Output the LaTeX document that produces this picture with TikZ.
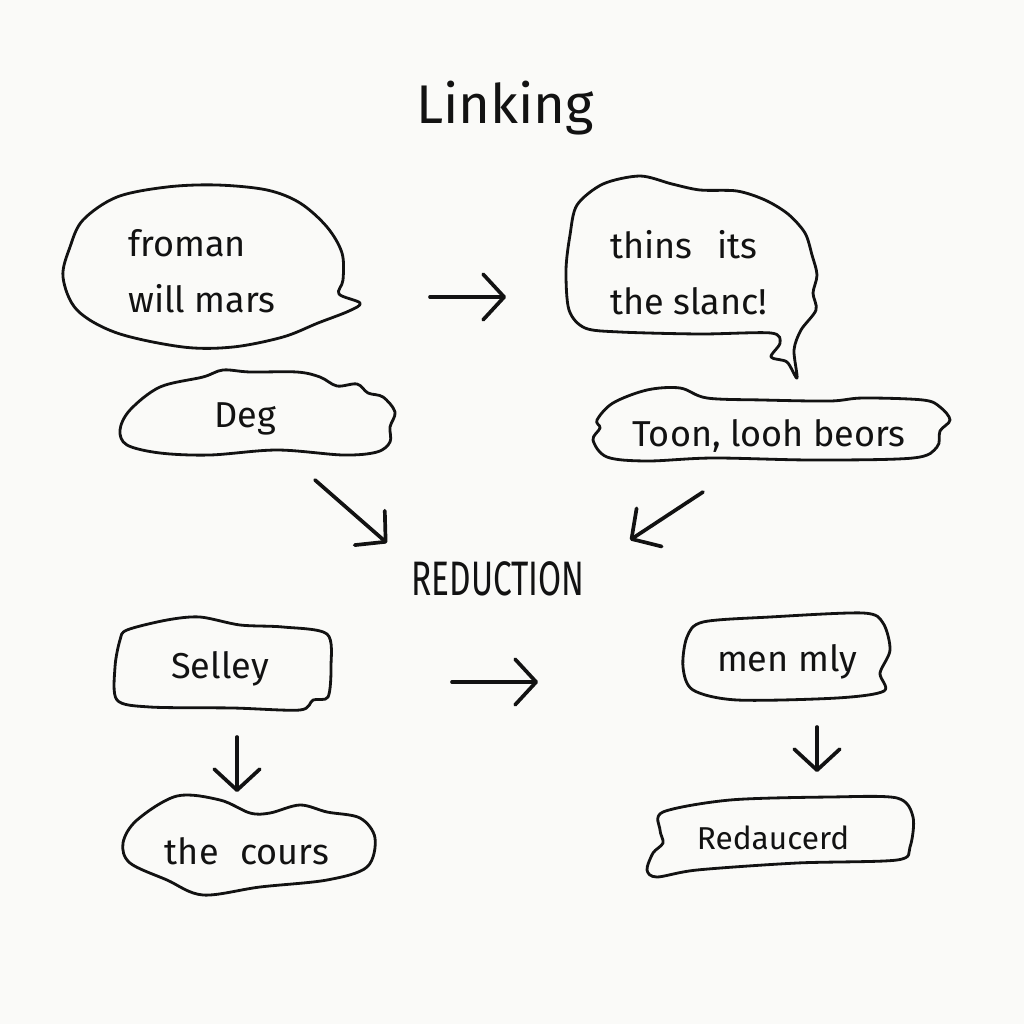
\documentclass[tikz,border=0pt]{standalone}
\usepackage{fontspec}
\setmainfont{Fira Sans}
\usepackage{graphicx}
\usetikzlibrary{arrows.meta}
\definecolor{ink}{HTML}{121212}
\definecolor{paper}{HTML}{FAFAF8}

\begin{document}
\begin{tikzpicture}[x=0.02cm,y=-0.02cm,
 blob/.style={draw=ink,line width=1.6pt,line join=round},
 lbl/.style={text=ink,font=\fontsize{20.5}{32}\selectfont,inner sep=0pt},
 arr/.style={draw=ink,line width=2.1pt,line cap=round,-{Straight Barb[length=12pt,width=26pt,round]}}]
\fill[paper] (0,0) rectangle (1024,1024);
\useasboundingbox (0,0) rectangle (1024,1024);
\node[lbl,font=\fontsize{31}{34}\selectfont] (title) at (505,108) {Linking};
\draw[blob] plot[smooth cycle,tension=.55] coordinates {(167,187) (217,185) (267,190) (300,203)
 (327,227) (342,253) (343,280) (339,294) (360,303) (349,311) (318,323) (283,337) (233,347)
 (183,347) (117,333) (77,310) (63,277) (70,247) (83,220) (117,197)};
\node[lbl,align=left,anchor=west] (fro) at (128,271) {froman\\will mars};
\draw[blob] plot[smooth cycle,tension=.5] coordinates {(577,205) (603,184) (640,176) (672,184)
 (700,190) (737,191) (765,200) (788,214) (805,233) (812,255) (817,275) (813,293) (816,310)
 (801,330) (794,350) (797,378) (787,362) (771,357) (780,343) (771,333) (700,334) (620,332)
 (585,328) (569,310) (566,270) (570,235)};
\node[lbl,align=left,anchor=west] (thi) at (610,273) {thins\hspace{.7em}its\\the slanc!};
\draw[blob] plot[smooth cycle,tension=.55] coordinates {(130,410) (160,387) (203,377) (223,370)
 (250,372) (297,372) (320,377) (337,386) (357,384) (368,393) (383,397) (395,412) (390,427)
 (390,442) (377,452) (343,455) (277,450) (210,455) (160,453) (127,445) (120,430)};
\node[lbl] (deg) at (245,419) {Deg};
\draw[blob] plot[smooth cycle,tension=.55] coordinates {(613,403) (647,390) (680,388) (707,398)
 (763,400) (830,401) (863,398) (923,400) (940,407) (950,420) (940,431) (937,447) (913,458)
 (813,460) (713,458) (647,461) (607,457) (593,440) (600,428) (597,420)};
\node[lbl] (toon) at (769,436) {Toon, looh beors};
\node[lbl,font=\fontsize{19}{21}\selectfont] (red) at (498,579) {\scalebox{1}[1.45]{REDUCTION}};
\draw[blob] plot[smooth cycle,tension=.5] coordinates {(127,630) (167,620) (200,617) (240,625)
 (283,627) (327,634) (331,667) (328,697) (313,700) (300,710) (233,708) (150,707) (117,700)
 (115,667) (120,640)};
\node[lbl] (sel) at (220,669) {Selley};
\draw[blob] plot[smooth cycle,tension=.5] coordinates {(703,622) (770,617) (863,613) (883,623)
 (890,650) (880,673) (884,691) (837,698) (737,700) (693,690) (683,667) (687,637)};
\node[lbl] (men) at (787,662) {men mly};
\draw[blob] plot[smooth cycle,tension=.55] coordinates {(137,820) (177,796) (220,800) (250,813)
 (270,813) (300,805) (327,812) (360,818) (375,838) (367,867) (327,880) (260,887) (203,895)
 (167,880) (130,863) (123,843)};
\node[lbl] (cou) at (247,851) {the\hspace{.6em}cours};
\draw[blob] plot[smooth cycle,tension=.5] coordinates {(663,812) (730,800) (830,797) (897,798)
 (913,817) (910,847) (897,860) (797,863) (697,870) (657,877) (647,870) (653,853) (663,843)
 (660,830)};
\node[lbl,font=\fontsize{18}{20}\selectfont] (rdc) at (773,838) {Redaucerd};
\coordinate (a1) at (430,297); \coordinate (b1) at (506,297);
\coordinate (a2) at (315,480); \coordinate (b2) at (387,543);
\coordinate (a3) at (703,492); \coordinate (b3) at (630,540);
\coordinate (a4) at (452,682); \coordinate (b4) at (538,682);
\coordinate (a5) at (237,737); \coordinate (b5) at (237,792);
\coordinate (a6) at (817,727); \coordinate (b6) at (817,772);
\foreach \s/\e in {a1/b1,a2/b2,a3/b3,a4/b4,a5/b5,a6/b6}
 \draw[arr] (\s) -- (\e);
\end{tikzpicture}
\end{document}
